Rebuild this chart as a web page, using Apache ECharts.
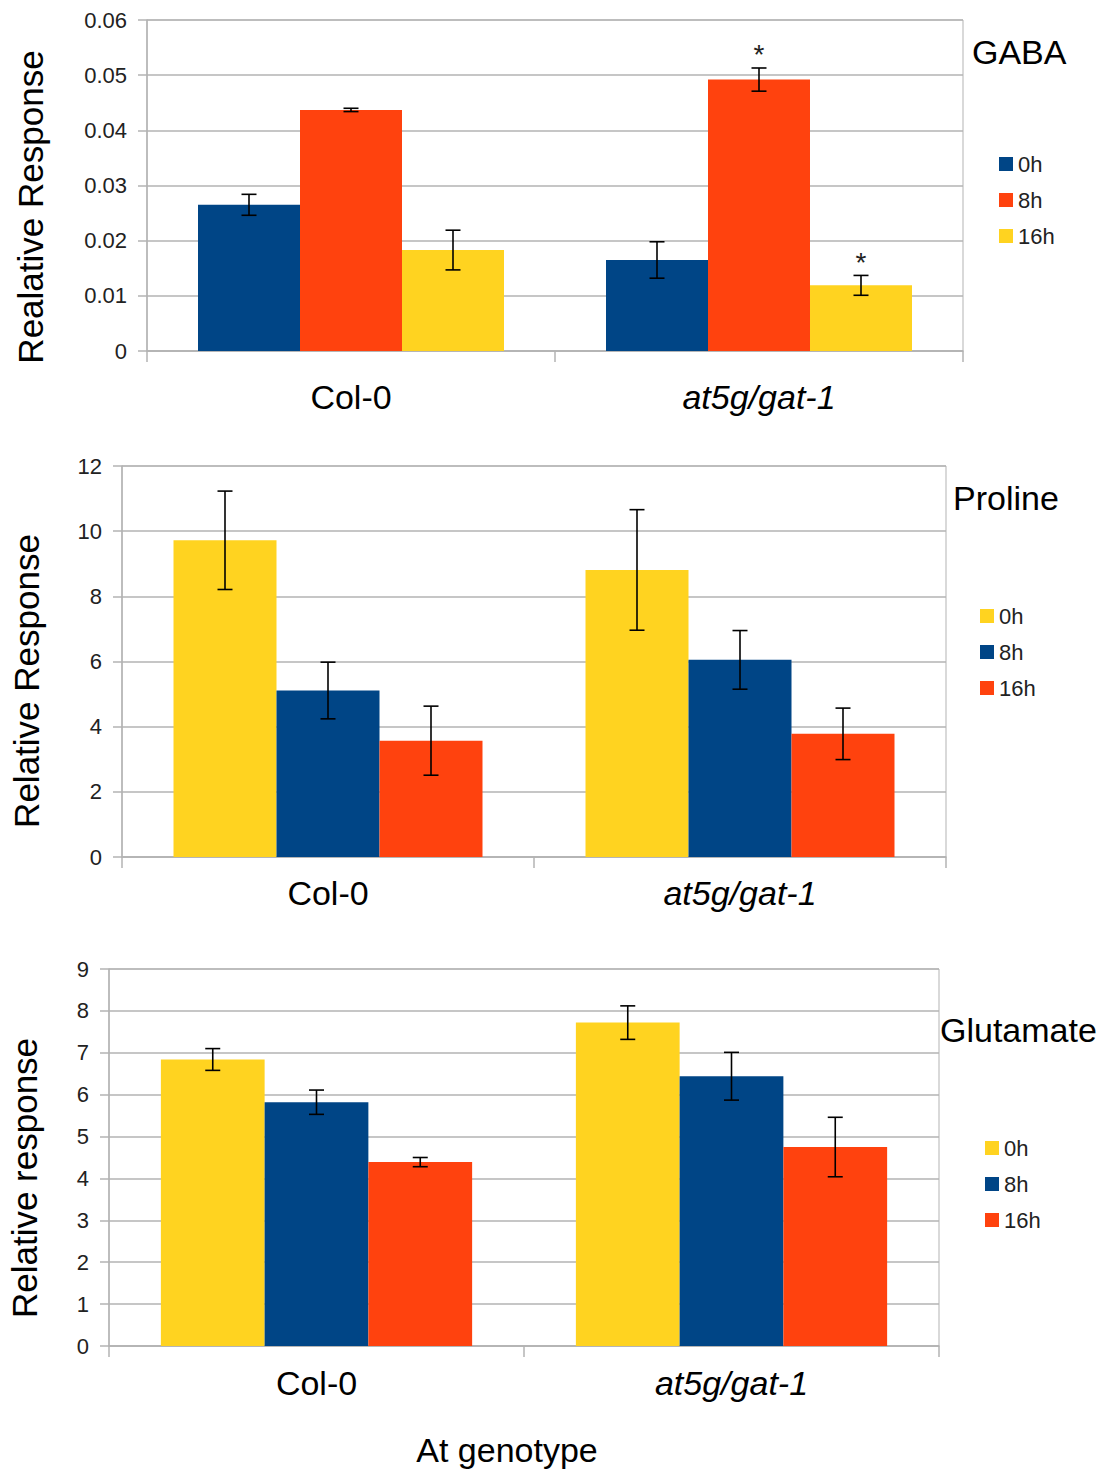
<!DOCTYPE html>
<html>
<head>
<meta charset="utf-8">
<script src="https://cdn.jsdelivr.net/npm/echarts@6/dist/echarts.min.js"></script>
<style>
  html, body { margin: 0; padding: 0; background: #ffffff; }
  #chart { width: 1101px; height: 1470px; }
</style>
</head>
<body>
<div id="chart"></div>
<script>
// ---- data ----------------------------------------------------------
const genotypes = ['Col-0', 'at5g/gat-1'];
const timeLabels = ['0h', '8h', '16h'];

// GABA: mean and error per genotype
const gaba0h = [0.0265, 0.0165];
const gaba0hErr = [0.0019, 0.0033];
const gaba8h = [0.0437, 0.0492];
const gaba8hErr = [0.0003, 0.0021];
const gaba16h = [0.0183, 0.0119];
const gaba16hErr = [0.0036, 0.0018];
// significance flags (1 = asterisk drawn above error bar)
const gaba0hSig = [0, 0];
const gaba8hSig = [0, 1];
const gaba16hSig = [0, 1];

// Proline
const pro0h = [9.72, 8.81];
const pro0hErr = [1.51, 1.85];
const pro8h = [5.11, 6.05];
const pro8hErr = [0.87, 0.90];
const pro16h = [3.57, 3.78];
const pro16hErr = [1.06, 0.79];

// Glutamate
const glu0h = [6.84, 7.72];
const glu0hErr = [0.26, 0.40];
const glu8h = [5.82, 6.44];
const glu8hErr = [0.29, 0.57];
const glu16h = [4.39, 4.75];
const glu16hErr = [0.11, 0.71];

// y axis ranges / tick steps
const gabaTicks = { min: 0, max: 0.06, step: 0.01 };
const proTicks = { min: 0, max: 12, step: 2 };
const gluTicks = { min: 0, max: 9, step: 1 };

// ---- styling -------------------------------------------------------
const FONT = 'Liberation Sans, Arial, sans-serif';
const GRID_COLOR = '#b3b3b3';
const BLUE = '#004586', ORANGE = '#ff420e', YELLOW = '#ffd320';
const STAR = '*';
const CAT_GAP = 0.25;   // barCategoryGap fraction

const panels = [
  {
    key: 'GABA', title: 'GABA', yName: 'Realative Response',
    ticks: gabaTicks,
    grid: { left: 147, top: 20, width: 816, height: 331 },
    catMargin: 29,
    series: [
      { t: '0h', mean: gaba0h, err: gaba0hErr, sig: gaba0hSig, color: BLUE },
      { t: '8h', mean: gaba8h, err: gaba8hErr, sig: gaba8hSig, color: ORANGE },
      { t: '16h', mean: gaba16h, err: gaba16hErr, sig: gaba16hSig, color: YELLOW }
    ],
    titlePos: [972, 52], yNamePos: [30, 207], legendPos: [994, 148]
  },
  {
    key: 'Proline', title: 'Proline', yName: 'Relative Response',
    ticks: proTicks,
    grid: { left: 122, top: 466, width: 824, height: 391 },
    catMargin: 19,
    series: [
      { t: '0h', mean: pro0h, err: pro0hErr, color: YELLOW },
      { t: '8h', mean: pro8h, err: pro8hErr, color: BLUE },
      { t: '16h', mean: pro16h, err: pro16hErr, color: ORANGE }
    ],
    titlePos: [953, 498], yNamePos: [26, 681], legendPos: [975, 600]
  },
  {
    key: 'Glutamate', title: 'Glutamate', yName: 'Relative response',
    ticks: gluTicks,
    grid: { left: 109, top: 969, width: 830, height: 377 },
    catMargin: 20,
    series: [
      { t: '0h', mean: glu0h, err: glu0hErr, color: YELLOW },
      { t: '8h', mean: glu8h, err: glu8hErr, color: BLUE },
      { t: '16h', mean: glu16h, err: glu16hErr, color: ORANGE }
    ],
    titlePos: [940, 1030], yNamePos: [24, 1178], legendPos: [980, 1132]
  }
];

// error bar (I-beam) renderer for the k-th bar of each group
function errorBarRenderer(k, nBars) {
  return function (params, api) {
    const ci = api.value(0), m = api.value(1), e = api.value(2), sig = api.value(3);
    const band = api.size([1, 0])[0];
    const bw = band * (1 - CAT_GAP) / nBars;
    const base = api.coord([ci, m]);
    const x = base[0] + (k - (nBars - 1) / 2) * bw;
    const yTop = api.coord([ci, m + e])[1];
    const yBot = api.coord([ci, m - e])[1];
    const half = 7.5;
    const ls = { stroke: '#000', lineWidth: 1.6 };
    const children = [
      { type: 'line', shape: { x1: x, y1: yTop, x2: x, y2: yBot }, style: ls },
      { type: 'line', shape: { x1: x - half, y1: yTop, x2: x + half, y2: yTop }, style: ls },
      { type: 'line', shape: { x1: x - half, y1: yBot, x2: x + half, y2: yBot }, style: ls }
    ];
    if (sig) {
      children.push({
        type: 'text',
        style: {
          text: STAR, x: x, y: yTop - 13,
          align: 'center', verticalAlign: 'middle',
          fontSize: 28, fontFamily: FONT, fill: '#222'
        }
      });
    }
    return { type: 'group', children: children };
  };
}

const grids = [], xAxes = [], yAxes = [], series = [], legends = [], graphics = [];

panels.forEach((p, i) => {
  grids.push(Object.assign({
    show: true, borderColor: GRID_COLOR, borderWidth: 1, containLabel: false
  }, p.grid));

  xAxes.push({
    type: 'category', gridIndex: i,
    data: genotypes.map((g, gi) => gi === 1
      ? { value: g, textStyle: { fontStyle: 'italic' } }
      : { value: g }),
    axisLine: { lineStyle: { color: GRID_COLOR, width: 1.5 } },
    axisTick: { show: true, length: 11, lineStyle: { color: GRID_COLOR, width: 1.5 } },
    axisLabel: { fontSize: 34, fontFamily: FONT, color: '#000', margin: p.catMargin },
    splitLine: { show: false }
  });

  yAxes.push({
    type: 'value', gridIndex: i,
    min: p.ticks.min, max: p.ticks.max, interval: p.ticks.step,
    axisLine: { show: true, lineStyle: { color: GRID_COLOR, width: 1.5 } },
    axisTick: { show: true, length: 9, lineStyle: { color: GRID_COLOR, width: 1.5 } },
    axisLabel: { fontSize: 22, fontFamily: FONT, color: '#222', margin: 20 },
    splitLine: { show: true, lineStyle: { color: GRID_COLOR, width: 1.5 } }
  });

  const names = [];
  p.series.forEach((s, k) => {
    const name = p.key + '|' + s.t;
    names.push(name);
    series.push({
      name: name, type: 'bar', xAxisIndex: i, yAxisIndex: i,
      data: s.mean,
      itemStyle: { color: s.color },
      barGap: '0%', barCategoryGap: (CAT_GAP * 100) + '%',
      silent: true
    });
    series.push({
      name: name + ' err', type: 'custom', xAxisIndex: i, yAxisIndex: i,
      renderItem: errorBarRenderer(k, p.series.length),
      data: s.mean.map((m, gi) => [gi, m, s.err[gi], s.sig ? s.sig[gi] : 0]),
      encode: { x: 0, y: 1 },
      z: 10, silent: true
    });
  });

  legends.push({
    orient: 'vertical', left: p.legendPos[0], top: p.legendPos[1],
    data: names, formatter: n => n.split('|')[1],
    icon: 'rect', itemWidth: 14, itemHeight: 14, itemGap: 14,
    selectedMode: false,
    textStyle: { fontSize: 22, fontFamily: FONT, color: '#222', padding: [0, 0, 0, 0] }
  });

  graphics.push({
    type: 'text', x: p.titlePos[0], y: p.titlePos[1],
    style: { text: p.title, fontSize: 34, fontFamily: FONT, fill: '#000', verticalAlign: 'middle' }
  });
  graphics.push({
    type: 'text', x: p.yNamePos[0], y: p.yNamePos[1], rotation: Math.PI / 2,
    style: { text: p.yName, fontSize: 35, fontFamily: FONT, fill: '#000', align: 'center', verticalAlign: 'middle' }
  });
});

graphics.push({
  type: 'text', x: 507, y: 1450,
  style: { text: 'At genotype', fontSize: 34, fontFamily: FONT, fill: '#000', align: 'center', verticalAlign: 'middle' }
});

const chart = echarts.init(document.getElementById('chart'), null, { renderer: 'svg' });
chart.setOption({
  animation: false,
  backgroundColor: '#ffffff',
  grid: grids,
  xAxis: xAxes,
  yAxis: yAxes,
  legend: legends,
  series: series,
  graphic: graphics
});
</script>
</body>
</html>
